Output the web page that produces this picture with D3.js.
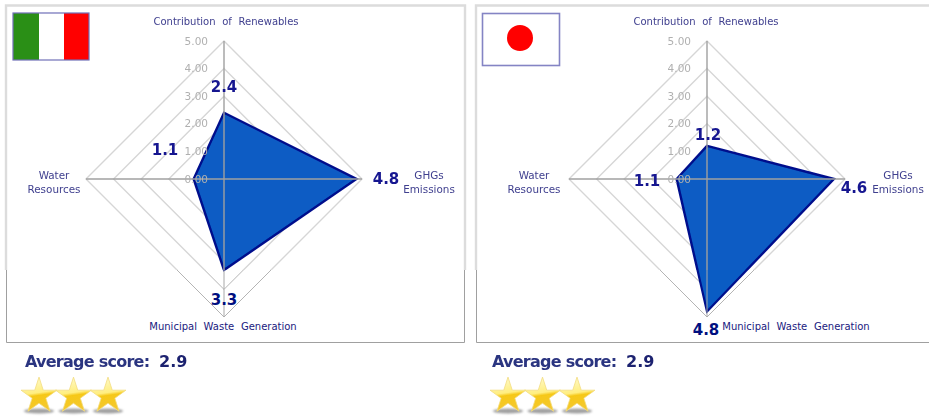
<!DOCTYPE html>
<html>
<head>
<meta charset="utf-8">
<style>
  html, body { margin: 0; padding: 0; background: #fff; }
  svg { display: block; }
  text { font-family: "DejaVu Sans", sans-serif; }
</style>
<script src="https://cdn.jsdelivr.net/npm/d3@7"></script>
</head>
<body>
<svg id="chart" width="929" height="416"></svg>
<script>
// Indicator scores, listed clockwise from the top axis
const indicators = ["Contribution of Renewables", "GHGs Emissions", "Municipal Waste Generation", "Water Resources"];
const italyScores = [2.4, 4.8, 3.3, 1.1];
const japanScores = [1.2, 4.6, 4.8, 1.1];
const tickValues = [0, 1, 2, 3, 4, 5];
const averageScores = [2.9, 2.9];
const starCounts = [3, 3];

const radius = d3.scaleLinear().domain([0, 5]).range([0, 138]);
const angle = d3.scalePoint().domain(d3.range(5)).range([0, 2 * Math.PI]);
const ringPath = d3.lineRadial().curve(d3.curveLinearClosed)
  .angle((d, i) => angle(i)).radius(d => radius(d));

const svg = d3.select("#chart");
const defs = svg.append("defs");
const softEdge = 270;   // rows above this line render softer than those below

function softFilter(id, dev) {
  defs.append("filter").attr("id", id)
    .attr("filterUnits", "userSpaceOnUse")
    .attr("x", 0).attr("y", 0).attr("width", 929).attr("height", 416)
    .append("feGaussianBlur").attr("stdDeviation", dev);
}
softFilter("soft", 0.7);
softFilter("softer", 0.55);
softFilter("shadow", 1.1);

defs.append("clipPath").attr("id", "clipUpper").append("rect")
  .attr("x", 0).attr("y", 0).attr("width", 929).attr("height", softEdge);
defs.append("clipPath").attr("id", "clipLower").append("rect")
  .attr("x", 0).attr("y", softEdge).attr("width", 929).attr("height", 416 - softEdge);

const starFill = defs.append("linearGradient").attr("id", "starFill")
  .attr("x1", 0.1).attr("y1", 0).attr("x2", 0.25).attr("y2", 1);
[["0%", "#fffbd0"], ["50%", "#ffee80"], ["58%", "#f6c818"], ["100%", "#f4c830"]]
  .forEach(([o, c]) => starFill.append("stop").attr("offset", o).attr("stop-color", c));

// Panels: frame, flag, radar, caption and rating stars
const panels = [
  {
    scores: italyScores, average: averageScores[0], stars: starCounts[0],
    cx: 224, cy: 179, frame: [6, 465],
    axisLabels: [[2, -158], [205, -4, 10], [-1, 147], [-170, -4, 10]],
    valueOffsets: [[0, -92], [162, 0], [0, 121], [-59, -29]],
    captionX: 25, scoreX: 159, starX: 39
  },
  {
    scores: japanScores, average: averageScores[1], stars: starCounts[1],
    cx: 707, cy: 179, frame: [476, 940],
    axisLabels: [[-1, -158], [191, -4, 10], [89, 147], [-173, -4, 10]],
    valueOffsets: [[1, -44], [147, 9], [-1, 151], [-60, 2]],
    captionX: 492, scoreX: 626, starX: 508
  }
];

function drawFrame(panel) {
  const [x0, x1] = panel.frame;
  const upper = svg.append("g").attr("filter", "url(#soft)")
    .attr("fill", "none").attr("stroke", "#dcdcdc").attr("stroke-width", 2.4);
  upper.append("path").attr("d", `M${x0},${softEdge}V5.5H${x1}V${softEdge}`);
  svg.append("path")
    .attr("d", `M${x0 + 0.5},${softEdge}V342.5H${x1 - 0.5}V${softEdge}`)
    .attr("fill", "none").attr("stroke", "#a0a0a0");
}

function drawRadar(g, panel, ringColour, ringWidth, spokeColour, edgeWidth) {
  g.selectAll(".ring").data(tickValues.slice(1)).join("path")
    .attr("class", "ring")
    .attr("d", t => ringPath(indicators.map(() => t)))
    .attr("fill", "none").attr("stroke", ringColour).attr("stroke-width", ringWidth);
  g.append("path")
    .attr("d", ringPath(panel.scores))
    .attr("fill", "#0a5cc4").attr("stroke", "#00108c").attr("stroke-width", edgeWidth)
    .attr("stroke-linejoin", "miter");
  g.selectAll(".spoke").data(indicators).join("line")
    .attr("class", "spoke")
    .attr("x2", (d, i) => Math.sin(angle(i)) * radius(5))
    .attr("y2", (d, i) => -Math.cos(angle(i)) * radius(5))
    .attr("stroke", spokeColour).attr("stroke-width", ringWidth);
}

panels.forEach(panel => {
  drawFrame(panel);

  const move = `translate(${panel.cx},${panel.cy})`;
  // The blur sits outside the transform so its region stays in page coordinates
  const upper = svg.append("g").attr("clip-path", "url(#clipUpper)")
    .append("g").attr("filter", "url(#soft)")
    .append("g").attr("transform", move);
  const lower = svg.append("g").attr("clip-path", "url(#clipLower)")
    .append("g").attr("transform", move);
  const crispText = svg.append("g").attr("transform", move);

  drawRadar(upper, panel, "#d6d6d6", 1.4, "#a0a0a0", 2.4);
  drawRadar(lower, panel, "#b4b4b4", 1, "#a8a8a8", 2.2);

  // Radial tick labels sit over the polygon
  upper.selectAll(".tick").data(tickValues).join("text")
    .attr("class", "tick")
    .attr("x", -16).attr("y", t => -radius(t)).attr("dy", "0.35em")
    .attr("text-anchor", "end").attr("font-size", 10.5).attr("fill", "#b0b0b0")
    .text(t => d3.format(".2f")(t));

  // Axis names; the two side axes wrap onto two lines
  indicators.forEach((name, i) => {
    const [dx, dy, wrap] = panel.axisLabels[i];
    const crisp = dy > 100;
    const t = (crisp ? crispText : upper).append("text")
      .attr("x", dx).attr("y", dy).attr("dy", "0.35em")
      .attr("text-anchor", "middle").attr("font-size", wrap ? 10.4 : 10)
      .attr("word-spacing", 3.5)
      .attr("fill", crisp ? "#1a1a80" : "#40408f");
    if (wrap) {
      name.split(" ").forEach((word, k) => {
        t.append("tspan").attr("x", dx).attr("dy", k ? "14px" : "0.35em").text(word);
      });
    } else {
      t.text(name);
    }
  });

  // Score labels next to each polygon vertex
  panel.scores.forEach((score, i) => {
    const [dx, dy] = panel.valueOffsets[i];
    const crisp = panel.cy + dy > softEdge;
    (crisp ? crispText : upper).append("text")
      .attr("x", dx).attr("y", dy).attr("dy", "0.36em")
      .attr("text-anchor", "middle").attr("font-size", 15).attr("font-weight", 700)
      .attr("fill", crisp ? "#000f80" : "#161690")
      .text(d3.format(".1f")(score));
  });

  // Average score caption
  const caption = svg.append("g").attr("filter", "url(#softer)").attr("fill", "#2c3480");
  caption.append("text").attr("x", panel.captionX).attr("y", 367)
    .attr("font-family", "Open Sans").attr("font-size", 16).attr("font-weight", 600)
    .attr("letter-spacing", -0.75).text("Average score:");
  caption.append("text").attr("x", panel.scoreX).attr("y", 367)
    .attr("font-size", 16).attr("font-weight", 700)
    .attr("fill", "#1e2470").text(d3.format(".1f")(panel.average));

  // Rating stars, each with a small shadow under it
  const star = d3.symbol().type(d3.symbolStar).size(400);
  const stars = d3.range(panel.stars);
  svg.append("g").attr("filter", "url(#shadow)").selectAll("ellipse").data(stars).join("ellipse")
    .attr("cx", i => panel.starX + i * 34.5).attr("cy", 411)
    .attr("rx", 15).attr("ry", 2.6).attr("fill", "#a0a0a0");
  svg.append("g").attr("filter", "url(#softer)").selectAll("path").data(stars).join("path")
    .attr("transform", i => `translate(${panel.starX + i * 34.5},396)`)
    .attr("d", star).attr("fill", "url(#starFill)")
    .attr("stroke", "#f2dc80").attr("stroke-width", 0.8);
});

// Flags
const flagItaly = svg.append("g").attr("filter", "url(#softer)");
[["#2b8f12", 13, 26], ["#ffffff", 39, 25], ["#ff0000", 64, 25]].forEach(([fill, x, w]) => {
  flagItaly.append("rect").attr("x", x).attr("y", 13).attr("width", w).attr("height", 47).attr("fill", fill);
});
flagItaly.append("rect").attr("x", 13).attr("y", 13).attr("width", 76).attr("height", 47)
  .attr("fill", "none").attr("stroke", "#7070b8").attr("stroke-width", 1.2);

const flagJapan = svg.append("g").attr("filter", "url(#softer)");
flagJapan.append("rect").attr("x", 482.5).attr("y", 13.5).attr("width", 77).attr("height", 52)
  .attr("fill", "#fff").attr("stroke", "#8484c4").attr("stroke-width", 1.6);
flagJapan.append("circle").attr("cx", 520).attr("cy", 38).attr("r", 13).attr("fill", "#ff0000");
</script>
</body>
</html>
